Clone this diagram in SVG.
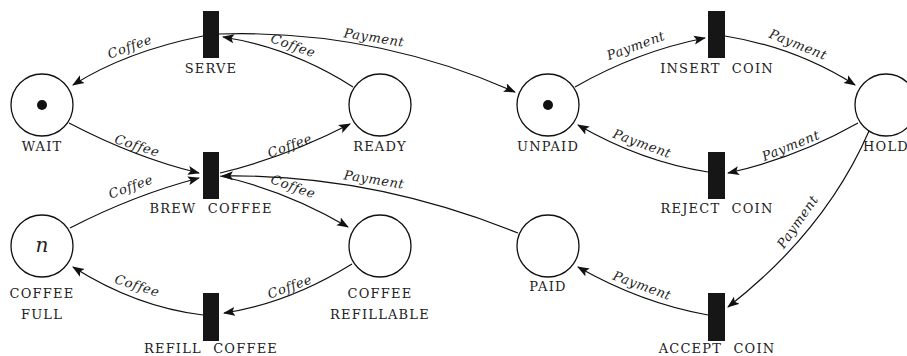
<svg xmlns="http://www.w3.org/2000/svg" width="907" height="356" viewBox="0 0 907 356">
<style>
.pl{fill:#fff;stroke:#111;stroke-width:1.3}
.tr{fill:#161616}
.lb{font-family:'DejaVu Serif',serif;font-size:13px;letter-spacing:1.2px;word-spacing:6px;fill:#222;text-anchor:middle}
.el{font-family:'DejaVu Serif',serif;font-style:italic;font-size:13px;letter-spacing:0.6px;fill:#222;text-anchor:middle}
.ar{fill:none;stroke:#111;stroke-width:1.2;marker-end:url(#ah)}
.tok{fill:#111}
</style>
<defs>
<marker id="ah" viewBox="0 0 12 10" refX="11" refY="5" markerWidth="12" markerHeight="10" markerUnits="userSpaceOnUse" orient="auto">
<path d="M0,0.5 L12,5 L0,9.5 L2.5,5 Z" fill="#111"/>
</marker>
</defs>
<rect width="907" height="356" fill="#fff"/>
<g id="connectors">
<path class="ar" d="M203,36 Q126,51.5 73,85"/>
<path class="ar" d="M353,87 Q292,48 223,37"/>
<path class="ar" d="M219,34 Q373,29 515,92"/>
<path class="ar" d="M69,123 Q136,158 199,173"/>
<path class="ar" d="M220,173 Q285,157.5 350,124"/>
<path class="ar" d="M70,228 Q134,195 199,178"/>
<path class="ar" d="M220,176 Q286,190.5 348,227"/>
<path class="ar" d="M518,233 Q370,173.5 222,176"/>
<path class="ar" d="M352,264 Q288,303.5 224,313"/>
<path class="ar" d="M203,315 Q136,307 73,267"/>
<path class="ar" d="M575,87 Q637,51.5 705,38"/>
<path class="ar" d="M725,36 Q796,47.5 855,85"/>
<path class="ar" d="M858,123 Q796,158 728,173"/>
<path class="ar" d="M708,172 Q641,161.5 578,125"/>
<path class="ar" d="M869,131 Q825.5,231 728,307"/>
<path class="ar" d="M708,315 Q641,303 578,267"/>
<text class="el" transform="translate(130,47) rotate(-20)" y="4">Coffee</text>
<text class="el" transform="translate(293,46) rotate(20)" y="4">Coffee</text>
<text class="el" transform="translate(374,38) rotate(9)" y="4">Payment</text>
<text class="el" transform="translate(137,146) rotate(18)" y="4">Coffee</text>
<text class="el" transform="translate(290,146) rotate(-20)" y="4">Coffee</text>
<text class="el" transform="translate(131,187) rotate(-20)" y="4">Coffee</text>
<text class="el" transform="translate(293,187) rotate(20)" y="4">Coffee</text>
<text class="el" transform="translate(374,180) rotate(9)" y="4">Payment</text>
<text class="el" transform="translate(290,287) rotate(-20)" y="4">Coffee</text>
<text class="el" transform="translate(137,286) rotate(18)" y="4">Coffee</text>
<text class="el" transform="translate(636,46) rotate(-20)" y="4">Payment</text>
<text class="el" transform="translate(798,45) rotate(22)" y="4">Payment</text>
<text class="el" transform="translate(791,146) rotate(-22)" y="4">Payment</text>
<text class="el" transform="translate(642,144) rotate(20)" y="4">Payment</text>
<text class="el" transform="translate(798,222) rotate(-55)" y="4">Payment</text>
<text class="el" transform="translate(642,286) rotate(20)" y="4">Payment</text>
</g>
<g id="wait"><circle class="pl" cx="42" cy="105" r="31"/><circle class="tok" cx="42" cy="105" r="5"/><text class="lb" x="42" y="151">WAIT</text></g>
<g id="ready"><circle class="pl" cx="380" cy="105" r="31"/><text class="lb" x="380" y="151">READY</text></g>
<g id="coffee-full"><circle class="pl" cx="42" cy="246" r="31"/><text x="42" y="252" text-anchor="middle" font-family="'DejaVu Serif',serif" font-style="italic" font-size="20" fill="#222">n</text><text class="lb" x="42" y="298">COFFEE</text><text class="lb" x="42" y="319">FULL</text></g>
<g id="coffee-refillable"><circle class="pl" cx="380" cy="246" r="31"/><text class="lb" x="380" y="298">COFFEE</text><text class="lb" x="380" y="319">REFILLABLE</text></g>
<g id="unpaid"><circle class="pl" cx="548" cy="105" r="31"/><circle class="tok" cx="548" cy="105" r="5"/><text class="lb" x="548" y="151">UNPAID</text></g>
<g id="paid"><circle class="pl" cx="548" cy="246" r="31"/><text class="lb" x="548" y="291">PAID</text></g>
<g id="hold"><circle class="pl" cx="886" cy="105" r="31"/><text class="lb" x="886" y="151">HOLD</text></g>
<g id="serve"><rect class="tr" x="203" y="11" width="16" height="47"/><text class="lb" x="211" y="73">SERVE</text></g>
<g id="brew-coffee"><rect class="tr" x="203" y="152" width="16" height="47"/><text class="lb" x="211" y="213">BREW COFFEE</text></g>
<g id="refill-coffee"><rect class="tr" x="203" y="293" width="16" height="48"/><text class="lb" x="211" y="353">REFILL COFFEE</text></g>
<g id="insert-coin"><rect class="tr" x="708" y="11" width="17" height="47"/><text class="lb" x="717" y="73">INSERT COIN</text></g>
<g id="reject-coin"><rect class="tr" x="708" y="152" width="17" height="47"/><text class="lb" x="717" y="213">REJECT COIN</text></g>
<g id="accept-coin"><rect class="tr" x="708" y="293" width="17" height="48"/><text class="lb" x="717" y="353">ACCEPT COIN</text></g>
</svg>
